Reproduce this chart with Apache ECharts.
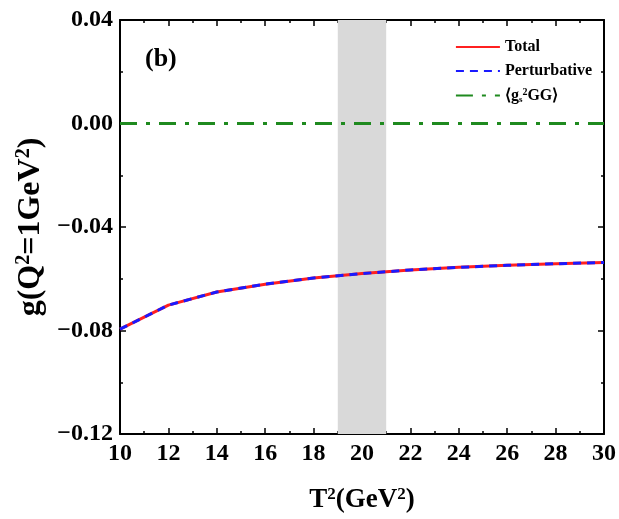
<!DOCTYPE html>
<html>
<head>
<meta charset="utf-8">
<script src="https://cdn.jsdelivr.net/npm/echarts@6/dist/echarts.min.js"></script>
<style>
  html, body { margin: 0; padding: 0; background: #fff; }
  #main { width: 619px; height: 519px; }
</style>
</head>
<body>
<div id="main"></div>
<script>
const tValues = [10, 12, 14, 16, 18, 20, 22, 24, 26, 28, 30];
const totalValues = [-0.0795, -0.0702, -0.0651, -0.0621, -0.0597, -0.0580, -0.0566, -0.0556, -0.0548, -0.0542, -0.0537];
const pertValues = [-0.0795, -0.0702, -0.0651, -0.0621, -0.0597, -0.0580, -0.0566, -0.0556, -0.0548, -0.0542, -0.0537];
const gluonValues = [0, 0, 0, 0, 0, 0, 0, 0, 0, 0, 0];
const bandRange = [19, 21];

const chart = echarts.init(document.getElementById('main'));
const font = 'Liberation Serif';

const fmtY = v => (v < 0 ? '\u2212' : '') + Math.abs(v).toFixed(2);
const pair = arr => tValues.map((t, i) => [t, arr[i]]);

// rich styles for superscripts in axis names
const nameRich = size => ({
  n: { fontFamily: font, fontWeight: 'bold', fontSize: size, color: '#000' },
  s: { fontFamily: font, fontWeight: 'bold', fontSize: Math.round(size * 0.62), color: '#000', verticalAlign: 'top', padding: [0, 0, Math.round(size * 0.45), 0] }
});

const baseX = {
  type: 'value', min: 10, max: 30, interval: 2,
  axisLine: { show: true, onZero: false, lineStyle: { color: '#000', width: 2 } },
  axisTick: { inside: true, length: 6, lineStyle: { color: '#000', width: 1.5 } },
  minorTick: { show: true, splitNumber: 2, length: 3, lineStyle: { color: '#000', width: 1.5 } },
  splitLine: { show: false }
};
const baseY = {
  type: 'value', min: -0.12, max: 0.04, interval: 0.04,
  axisLine: { show: true, onZero: false, lineStyle: { color: '#000', width: 2 } },
  axisTick: { inside: true, length: 6, lineStyle: { color: '#000', width: 1.5 } },
  minorTick: { show: true, splitNumber: 2, length: 3, lineStyle: { color: '#000', width: 1.5 } },
  splitLine: { show: false }
};

chart.setOption({
  animation: false,
  backgroundColor: '#fff',
  grid: { left: 120, right: 14, top: 20, bottom: 82 },
  xAxis: [
    Object.assign({}, baseX, {
      position: 'bottom',
      name: '{n|T}{s|2}{n|(GeV}{s|2}{n|)}', nameLocation: 'middle', nameGap: 52,
      nameTextStyle: { rich: nameRich(27) },
      axisLabel: { fontFamily: font, fontWeight: 'bold', fontSize: 24, color: '#000', margin: 8 }
    }),
    Object.assign({}, baseX, { position: 'top', axisLabel: { show: false } })
  ],
  yAxis: [
    Object.assign({}, baseY, {
      position: 'left',
      name: '{n|g(Q}{s|2}{n|=1GeV}{s|2}{n|)}', nameLocation: 'middle', nameGap: 70, nameRotate: 90,
      nameTextStyle: { rich: nameRich(32) },
      axisLabel: { fontFamily: font, fontWeight: 'bold', fontSize: 24, color: '#000', margin: 7, formatter: fmtY }
    }),
    Object.assign({}, baseY, { position: 'right', axisLabel: { show: false } })
  ],
  legend: {
    right: 22, top: 34, orient: 'vertical', itemGap: 8,
    itemWidth: 44, itemHeight: 14,
    itemStyle: { opacity: 0 },
    textStyle: {
      fontFamily: font, fontWeight: 'bold', fontSize: 16, color: '#000',
      rich: {
        n: { fontFamily: font, fontWeight: 'bold', fontSize: 16, color: '#000' },
        s: { fontFamily: font, fontWeight: 'bold', fontSize: 10, color: '#000', verticalAlign: 'top', padding: [0, 0, 7, 0] },
        b: { fontFamily: font, fontWeight: 'bold', fontSize: 9, color: '#000', verticalAlign: 'bottom', padding: [6, 0, 0, 0] }
      }
    },
    formatter: name => name === 'g2GG' ? '{n|\u27E8g}{b|s}{s|2}{n|GG\u27E9}' : name,
    data: [
      { name: 'Total' },
      { name: 'Perturbative' },
      { name: 'g2GG' }
    ]
  },
  graphic: [
    { type: 'text', left: 145, top: 46, style: { text: '(b)', font: 'bold 26px "Liberation Serif"', fill: '#000' } }
  ],
  series: [
    {
      name: 'g2GG', type: 'line', data: pair(gluonValues), symbol: 'none',
      lineStyle: { color: '#1f8a1f', width: 3, type: [17, 9, 4, 9] },
      itemStyle: { color: '#1f8a1f' },
      markArea: {
        silent: true,
        itemStyle: { color: '#d9d9d9' },
        data: [[{ xAxis: bandRange[0] }, { xAxis: bandRange[1] }]]
      },
      z: 3
    },
    {
      name: 'Total', type: 'line', data: pair(totalValues), symbol: 'none',
      lineStyle: { color: '#ff2020', width: 3 }, itemStyle: { color: '#ff2020' }, z: 4
    },
    {
      name: 'Perturbative', type: 'line', data: pair(pertValues), symbol: 'none',
      lineStyle: { color: '#1a1aff', width: 3, type: [8, 6] }, itemStyle: { color: '#1a1aff' }, z: 5
    }
  ]
});
</script>
</body>
</html>
